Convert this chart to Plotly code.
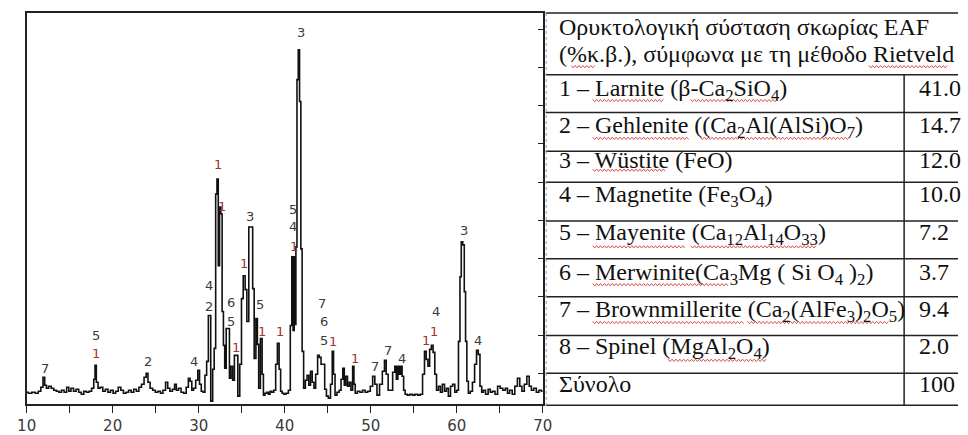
import plotly.graph_objects as go

# ---------------- XRD pattern data (2theta, relative intensity) ----------------
two_theta = [
    10.0, 10.4, 10.8, 11.2, 11.5, 11.8, 12.0, 12.2, 12.4, 12.7, 13.0, 13.3, 13.6, 13.9,
    14.2, 14.5, 14.8, 15.0, 15.3, 15.6, 15.9, 16.2, 16.5, 16.8, 17.1, 17.4, 17.7, 17.9,
    18.0, 18.2, 18.4, 18.7, 19.0, 19.3, 19.6, 19.9, 20.2, 20.5, 20.8, 21.1, 21.4, 21.7,
    22.0, 22.3, 22.6, 22.9, 23.2, 23.5, 23.8, 24.0, 24.2, 24.5, 24.8, 25.1, 25.4, 25.7,
    26.0, 26.3, 26.5, 26.8, 27.1, 27.3, 27.5, 27.8, 28.1, 28.4, 28.7, 28.9, 29.1, 29.3,
    29.5, 29.8, 30.0, 30.2, 30.4, 30.6, 30.85, 31.0, 31.25, 31.55, 31.7, 31.9, 32.05,
    32.2, 32.35, 32.5, 32.65, 32.8, 32.95, 33.1, 33.3, 33.5, 33.65, 33.85, 34.05, 34.25,
    34.45, 34.65, 34.9, 35.05, 35.3, 35.5, 35.7, 35.95, 36.2, 36.35, 36.55, 36.75, 36.9,
    37.05, 37.3, 37.45, 37.6, 37.8, 38.0, 38.2, 38.4, 38.6, 38.85, 39.05, 39.25, 39.45,
    39.6, 39.8, 40.0, 40.3, 40.55, 40.75, 40.9, 41.05, 41.15, 41.25, 41.35, 41.5, 41.65,
    41.8, 41.95, 42.1, 42.3, 42.5, 42.7, 42.9, 43.1, 43.3, 43.5, 43.7, 43.95, 44.1, 44.35,
    44.55, 44.75, 44.95, 45.2, 45.45, 45.6, 45.75, 45.95, 46.2, 46.45, 46.65, 46.85, 47.0,
    47.2, 47.4, 47.6, 47.8, 48.0, 48.1, 48.3, 48.6, 48.9, 49.2, 49.5, 49.8, 50.1, 50.35,
    50.6, 50.85, 51.2, 51.5, 51.7, 51.9, 52.15, 52.4, 52.7, 52.9, 53.05, 53.25, 53.4,
    53.55, 53.75, 53.9, 54.1, 54.4, 54.7, 55.0, 55.3, 55.6, 55.9, 56.15, 56.35, 56.55,
    56.75, 56.95, 57.15, 57.35, 57.55, 57.75, 58.0, 58.2, 58.45, 58.7, 58.9, 59.15, 59.4,
    59.65, 59.9, 60.1, 60.3, 60.45, 60.6, 60.8, 60.95, 61.1, 61.25, 61.45, 61.7, 61.95,
    62.2, 62.4, 62.6, 62.8, 63.0, 63.2, 63.5, 63.8, 64.0, 64.3, 64.6, 64.9, 65.2, 65.5,
    65.8, 66.0, 66.3, 66.6, 66.9, 67.2, 67.45, 67.7, 68.0, 68.3, 68.55, 68.8, 69.1, 69.4,
    69.7, 70.0,
]
intensity = [
    12, 11, 12, 11, 13, 17, 27, 19, 16, 18, 16, 14, 13, 12,
    14, 12, 17, 13, 16, 13, 15, 12, 10, 13, 12, 13, 16, 25,
    39, 22, 16, 17, 13, 15, 12, 14, 11, 13, 17, 14, 11, 12,
    14, 12, 15, 13, 17, 20, 27, 31, 22, 16, 14, 12, 13, 11,
    14, 22, 16, 13, 15, 20, 14, 16, 12, 11, 17, 26, 23, 14,
    16, 24, 34, 20, 13, 12, 29, 43, 89, 3, 35, 56, 211,
    226, 139, 198, 191, 93, 59, 36, 76, 76, 26, 38, 24, 49,
    49, 8, 40, 106, 129, 115, 83, 178, 178, 116, 46, 86, 60,
    16, 66, 30, 9, 11, 12, 10, 13, 12, 14, 40, 61, 35,
    13, 11, 10, 11, 14, 79, 148, 74, 148, 80, 158, 326, 356,
    304, 156, 53, 16, 24, 29, 19, 33, 22, 16, 30, 49, 47, 40,
    40, 15, 8, 6, 20, 53, 30, 9, 12, 14, 25, 36, 19,
    28, 18, 22, 14, 38, 20, 11, 13, 12, 14, 12, 13, 18, 28,
    20, 9, 20, 33, 44, 30, 14, 14, 32, 38, 25, 38, 30,
    38, 28, 14, 10, 9, 10, 9, 10, 9, 10, 30, 53, 45,
    38, 55, 59, 52, 30, 14, 18, 12, 20, 13, 16, 8, 18,
    20, 12, 14, 63, 128, 163, 160, 113, 63, 23, 11, 13, 22,
    40, 54, 50, 18, 12, 14, 10, 15, 12, 13, 10, 18, 16, 14,
    16, 11, 14, 10, 18, 26, 18, 13, 20, 28, 18, 14, 16, 12,
    14, 13,
]

# ---------------- Phase labels on peaks ----------------
peak_label_text = ["7", "5", "1", "2", "4", "1", "1", "4", "2", "6", "5", "1", "1", "3",
                   "5", "1", "1", "3", "5", "4", "1", "7", "6", "5", "1", "1", "7", "7",
                   "4", "1", "1", "4", "3", "4"]
peak_label_x = [12.13, 18.06, 18.06, 24.14, 29.5, 32.2, 32.69, 31.17, 31.17, 33.72, 33.72,
                34.37, 35.23, 36.0, 37.14, 37.4, 39.42, 41.89, 40.93, 40.93, 41.13, 44.36,
                44.55, 44.55, 45.58, 48.23, 50.51, 51.96, 53.67, 56.41, 57.35, 57.58, 60.89,
                62.49]
peak_label_y = [36, 69, 51, 43, 43, 241, 199, 119, 98, 102, 83, 57, 141, 189, 100, 73, 73,
                373, 196, 178, 158, 101, 83, 64, 63, 46, 38, 54, 46, 64, 73, 93, 174, 64]

x_tick_vals = [10, 15, 20, 25, 30, 35, 40, 45, 50, 55, 60, 65, 70]
x_tick_text = ["10", "", "20", "", "30", "", "40", "", "50", "", "60", "", "70"]

# ---------------- Table data ----------------
table_header = ["Ορυκτολογική σύσταση σκωρίας EAF",
                "(%κ.β.), σύμφωνα με τη μέθοδο Rietveld"]
table_phases = [
    "1 – Larnite (β-Ca<sub>2</sub>SiO<sub>4</sub>)",
    "2 – Gehlenite ((Ca<sub>2</sub>Al(AlSi)O<sub>7</sub>)",
    "3 – Wüstite (FeO)",
    "4 – Magnetite (Fe<sub>3</sub>O<sub>4</sub>)",
    "5 – Mayenite (Ca<sub>12</sub>Al<sub>14</sub>O<sub>33</sub>)",
    "6 – Merwinite(Ca<sub>3</sub>Mg ( Si O<sub>4</sub> )<sub>2</sub>)",
    "7 – Brownmillerite (Ca<sub>2</sub>(AlFe<sub>3</sub>)<sub>2</sub>O<sub>5</sub>)",
    "8 – Spinel (MgAl<sub>2</sub>O<sub>4</sub>)",
    "Σύνολο",
]
table_values = ["41.0", "14.7", "12.0", "10.0", "7.2", "3.7", "9.4", "2.0", "100"]

# ---------------- Layout helpers ----------------
W, H = 968, 435
def px(x):
    return x / W
def py(y):
    return 1 - y / H

fig = go.Figure()
fig.add_trace(go.Scatter(
    x=two_theta, y=intensity, mode="lines", line=dict(color="#111111", width=1.6, shape="hvh"),
    hoverinfo="skip", showlegend=False))
# invisible trace to host the right-hand tick axis
fig.add_trace(go.Scatter(x=[10], y=[0], yaxis="y2", mode="markers",
                         marker=dict(opacity=0), showlegend=False, hoverinfo="skip"))

annotations = []
for t, xv, yv in zip(peak_label_text, peak_label_x, peak_label_y):
    annotations.append(dict(
        x=xv, y=yv, xref="x", yref="y", text=t, showarrow=False,
        font=dict(family="DejaVu Sans", size=13, color="#a53232" if t == "1" else "#3a3a3a"),
        xanchor="center", yanchor="middle"))

serif = "Liberation Serif, Times New Roman, DejaVu Serif, serif"
tfont = dict(family=serif, size=24, color="#111111")
annotations.append(dict(x=px(559), y=py(27), xref="paper", yref="paper", text=table_header[0],
                        showarrow=False, xanchor="left", yanchor="middle", font=tfont))
annotations.append(dict(x=px(559), y=py(54), xref="paper", yref="paper", text=table_header[1],
                        showarrow=False, xanchor="left", yanchor="middle", font=tfont))

row_lines = [13, 75, 113, 152, 183, 222, 260, 298, 337, 375, 407]
row_text_centre = [90, 128, 163, 197, 235, 275, 312, 350, 388]
for ph, v, yc in zip(table_phases, table_values, row_text_centre):
    annotations.append(dict(x=px(559), y=py(yc - 17), xref="paper", yref="paper", text=ph,
                            showarrow=False, xanchor="left", yanchor="top", font=tfont))
    annotations.append(dict(x=px(926), y=py(yc - 17), xref="paper", yref="paper", text=v,
                            showarrow=False, xanchor="left", yanchor="top", font=tfont))

shapes = []
for yl in row_lines:
    shapes.append(dict(type="line", xref="paper", yref="paper", x0=px(547), x1=1.0,
                       y0=py(yl), y1=py(yl), line=dict(color="#222222", width=1.5)))
shapes.append(dict(type="line", xref="paper", yref="paper", x0=px(913), x1=px(913),
                   y0=py(75), y1=py(407), line=dict(color="#222222", width=1.5)))
shapes.append(dict(type="line", xref="paper", yref="paper", x0=px(547.5), x1=px(547.5),
                   y0=py(13), y1=py(410), line=dict(color="#8a9bb0", width=1, dash="dot")))

# red wavy spell-check underlines (x start, x end, y) in pixels
squiggles = [(573, 597, 67), (877, 958, 67),
             (595, 667, 101), (695, 783, 101),
             (595, 693, 139), (705, 858, 139),
             (595, 670, 171),
             (595, 690, 248), (695, 823, 248),
             (595, 733, 286),
             (595, 750, 324), (753, 897, 324),
             (672, 773, 362)]
for x0, x1, yy in squiggles:
    pts = []
    xx = x0
    k = 0
    while xx <= x1:
        pts.append((xx, yy + (1.2 if k % 2 else -1.2)))
        xx += 2
        k += 1
    path = "M " + " L ".join(f"{px(a):.5f},{py(b):.5f}" for a, b in pts)
    shapes.append(dict(type="path", xref="paper", yref="paper", path=path,
                       line=dict(color="#e05050", width=1)))

fig.update_layout(
    width=W, height=H, margin=dict(l=0, r=0, t=0, b=0),
    paper_bgcolor="white", plot_bgcolor="white",
    font=dict(family="DejaVu Sans", size=13, color="#333333"),
    xaxis=dict(domain=[px(17), px(544)], range=[10, 70], showgrid=False, zeroline=False,
               showline=True, linecolor="#222222", linewidth=1.5, mirror=True,
               ticks="outside", ticklen=7, tickwidth=1.2, tickcolor="#222222",
               tickvals=x_tick_vals, ticktext=x_tick_text,
               tickfont=dict(family="DejaVu Sans", size=15, color="#3a3a3a")),
    yaxis=dict(domain=[py(406), py(13)], range=[0, 393], showgrid=False, zeroline=False,
               showline=True, linecolor="#222222", linewidth=1.5, mirror=True,
               ticks="", showticklabels=False),
    yaxis2=dict(overlaying="y", side="right", range=[0, 393], showgrid=False, zeroline=False,
                showline=False, ticks="inside", ticklen=5, tickwidth=1, tickcolor="#222222",
                tick0=31, dtick=38.4, showticklabels=False),
    annotations=annotations, shapes=shapes,
)

fig.write_html("out.html")
